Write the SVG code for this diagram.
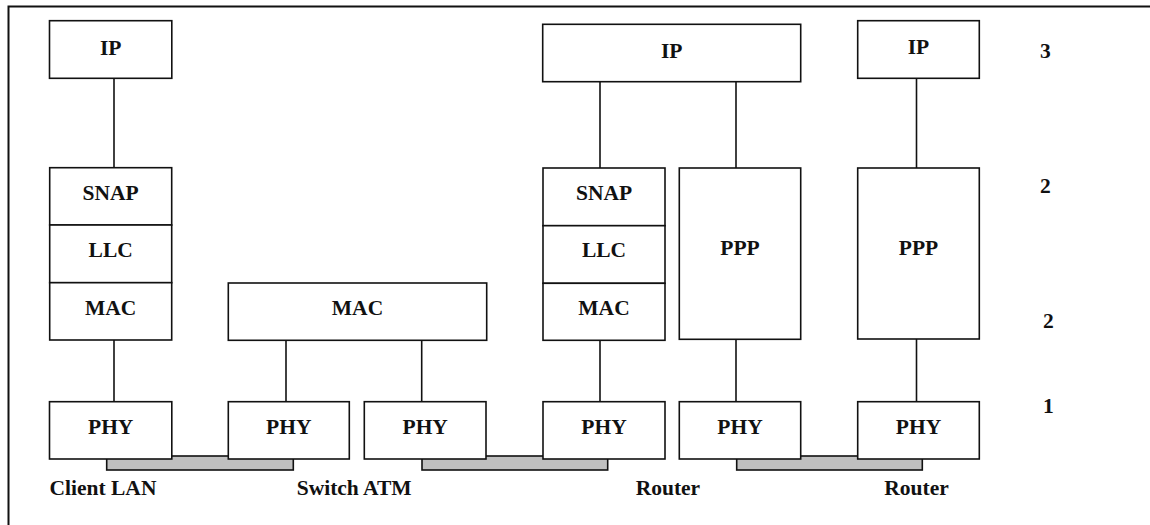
<svg xmlns="http://www.w3.org/2000/svg" width="1150" height="525" viewBox="0 0 1150 525" font-family="'Liberation Serif', 'Times New Roman', serif">
<style>
.b{fill:#fff;stroke:#111;stroke-width:1.6}
.bar{fill:#c0c0c0;stroke:#111;stroke-width:1.6}
.c{stroke:#111;stroke-width:1.6;fill:none}
text{font-family:'Liberation Serif','Times New Roman',serif;font-weight:bold;font-size:21.5px;fill:#111}
.m{text-anchor:middle}
</style>
<rect width="1150" height="525" fill="#fff"/>
<path d="M8.5 530 V6.5 H1160" fill="none" stroke="#111" stroke-width="2"/>
<g id="connectors">
<line class="c" x1="114" y1="78" x2="114" y2="168"/>
<line class="c" x1="114" y1="340" x2="114" y2="402"/>
<line class="c" x1="286" y1="340" x2="286" y2="402"/>
<line class="c" x1="421.7" y1="340" x2="421.7" y2="402"/>
<line class="c" x1="600" y1="81.7" x2="600" y2="168"/>
<line class="c" x1="736" y1="81.7" x2="736" y2="168"/>
<line class="c" x1="600" y1="340" x2="600" y2="402"/>
<line class="c" x1="736" y1="339" x2="736" y2="402"/>
<line class="c" x1="916.5" y1="78" x2="916.5" y2="168"/>
<line class="c" x1="916.5" y1="339" x2="916.5" y2="402"/>
<rect class="bar" x="106.7" y="456" width="186.6" height="14"/>
<rect class="bar" x="422" y="456" width="185.7" height="14"/>
<rect class="bar" x="736.7" y="456" width="185.6" height="14"/>
</g>
<g id="ip1"><rect class="b" x="49.5" y="20.7" width="122.3" height="57.6"/><text class="m" x="110.7" y="55">IP</text></g>
<g id="ip2"><rect class="b" x="542.7" y="24.3" width="258" height="57.4"/><text class="m" x="671.7" y="57.5">IP</text></g>
<g id="ip3"><rect class="b" x="857.7" y="20.7" width="121.6" height="57.6"/><text class="m" x="918.5" y="54">IP</text></g>
<g id="stack1">
<rect class="b" x="49.7" y="167.7" width="122" height="57.3"/><text class="m" x="110.7" y="200">SNAP</text>
<rect class="b" x="49.7" y="225" width="122" height="57.7"/><text class="m" x="110.7" y="257">LLC</text>
<rect class="b" x="49.7" y="282.7" width="122" height="57.3"/><text class="m" x="110.7" y="315">MAC</text>
</g>
<g id="mac-switch"><rect class="b" x="228.3" y="283" width="258.4" height="57.3"/><text class="m" x="357.5" y="315">MAC</text></g>
<g id="stack2">
<rect class="b" x="543" y="168" width="122" height="57.7"/><text class="m" x="604" y="200">SNAP</text>
<rect class="b" x="543" y="225.7" width="122" height="57.6"/><text class="m" x="604" y="257">LLC</text>
<rect class="b" x="543" y="283.3" width="122" height="57"/><text class="m" x="604" y="315">MAC</text>
</g>
<g id="ppp1"><rect class="b" x="679.3" y="168" width="121.4" height="171.3"/><text class="m" x="740" y="255">PPP</text></g>
<g id="ppp2"><rect class="b" x="857.7" y="168" width="121.6" height="171"/><text class="m" x="918.5" y="255">PPP</text></g>
<g id="phy1"><rect class="b" x="49.5" y="401.7" width="122.3" height="57.3"/><text class="m" x="110.7" y="434">PHY</text></g>
<g id="phy2"><rect class="b" x="228.3" y="401.7" width="121" height="57.3"/><text class="m" x="288.8" y="434">PHY</text></g>
<g id="phy3"><rect class="b" x="364.3" y="401.7" width="121.7" height="57.3"/><text class="m" x="425.2" y="434">PHY</text></g>
<g id="phy4"><rect class="b" x="543" y="401.7" width="122" height="57.3"/><text class="m" x="604" y="434">PHY</text></g>
<g id="phy5"><rect class="b" x="679.3" y="401.7" width="121.4" height="57.3"/><text class="m" x="740" y="434">PHY</text></g>
<g id="phy6"><rect class="b" x="857.7" y="401.7" width="121.6" height="57.3"/><text class="m" x="918.5" y="434">PHY</text></g>
<g id="labels">
<text x="49.5" y="495">Client LAN</text>
<text x="296.7" y="495">Switch ATM</text>
<text x="635.7" y="495">Router</text>
<text x="884.3" y="495">Router</text>
</g>
<g id="levels">
<text x="1040" y="58">3</text>
<text x="1040" y="193">2</text>
<text x="1043" y="328">2</text>
<text x="1043" y="413">1</text>
</g>
</svg>
